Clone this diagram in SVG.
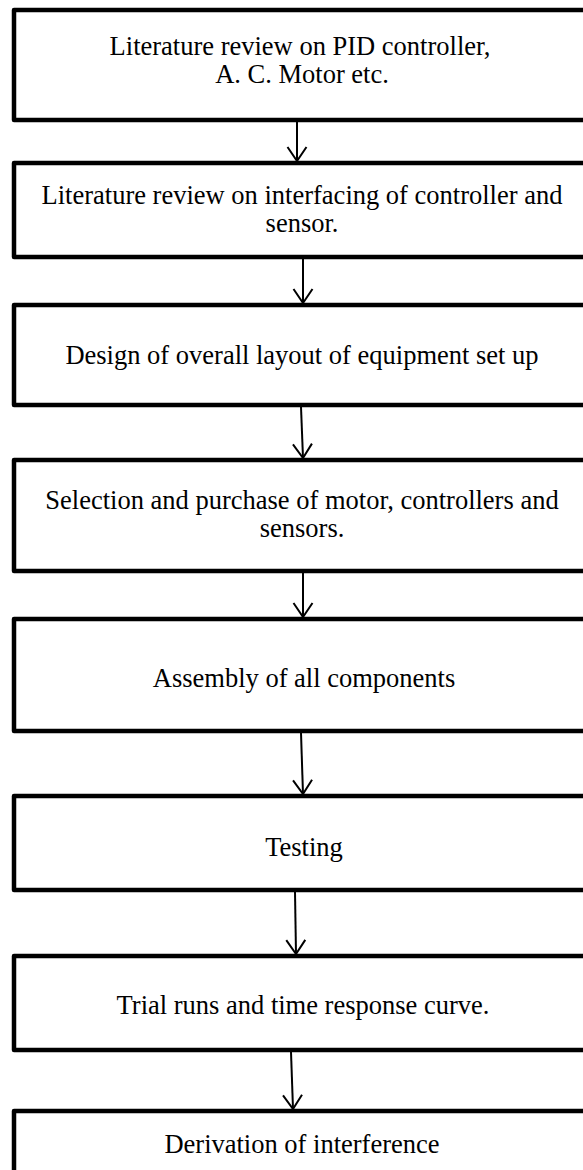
<svg xmlns="http://www.w3.org/2000/svg" width="583" height="1170" viewBox="0 0 583 1170">
<style>
.box{fill:#fff;stroke:#000;stroke-width:4.5;stroke-linejoin:round}
.t{font-family:"Liberation Serif","Times New Roman",serif;font-size:26.5px;fill:#000;text-anchor:middle}
.c{fill:none;stroke:#000;stroke-width:2}
</style>
<defs>
<marker id="ah" viewBox="-16 -11 18 22" markerWidth="18" markerHeight="22" refX="0" refY="0" markerUnits="userSpaceOnUse" orient="auto">
<path d="M-14,-9.5 L0,0 L-14,9.5" fill="none" stroke="#000" stroke-width="2"/>
</marker>
</defs>
<rect width="583" height="1170" fill="#fff"/>
<g id="connectors">
<line class="c" x1="297" y1="122" x2="297" y2="161" marker-end="url(#ah)"/>
<line class="c" x1="303" y1="259" x2="303" y2="303" marker-end="url(#ah)"/>
<line class="c" x1="301" y1="407" x2="303" y2="458" marker-end="url(#ah)"/>
<line class="c" x1="303" y1="573" x2="303" y2="617" marker-end="url(#ah)"/>
<line class="c" x1="301" y1="733" x2="303" y2="794" marker-end="url(#ah)"/>
<line class="c" x1="295" y1="892" x2="296" y2="954" marker-end="url(#ah)"/>
<line class="c" x1="291" y1="1052" x2="293" y2="1109" marker-end="url(#ah)"/>
</g>
<g id="n1"><rect class="box" x="14" y="10" width="600" height="110"/>
<text class="t" x="300" y="55">Literature review on PID controller,</text>
<text class="t" x="302" y="83">A. C. Motor etc.</text></g>
<g id="n2"><rect class="box" x="14" y="163" width="600" height="94"/>
<text class="t" x="302" y="204">Literature review on interfacing of controller and</text>
<text class="t" x="302" y="232">sensor.</text></g>
<g id="n3"><rect class="box" x="14" y="305" width="600" height="100"/>
<text class="t" x="302" y="364">Design of overall layout of equipment set up</text></g>
<g id="n4"><rect class="box" x="14" y="460" width="600" height="111"/>
<text class="t" x="302" y="509">Selection and purchase of motor, controllers and</text>
<text class="t" x="302" y="537">sensors.</text></g>
<g id="n5"><rect class="box" x="14" y="619" width="600" height="112"/>
<text class="t" x="304" y="687">Assembly of all components</text></g>
<g id="n6"><rect class="box" x="14" y="796" width="600" height="94"/>
<text class="t" x="304" y="856">Testing</text></g>
<g id="n7"><rect class="box" x="14" y="956" width="600" height="94"/>
<text class="t" x="303" y="1014">Trial runs and time response curve.</text></g>
<g id="n8"><rect class="box" x="14" y="1111" width="600" height="80"/>
<text class="t" x="302" y="1153">Derivation of interference</text></g>
</svg>
